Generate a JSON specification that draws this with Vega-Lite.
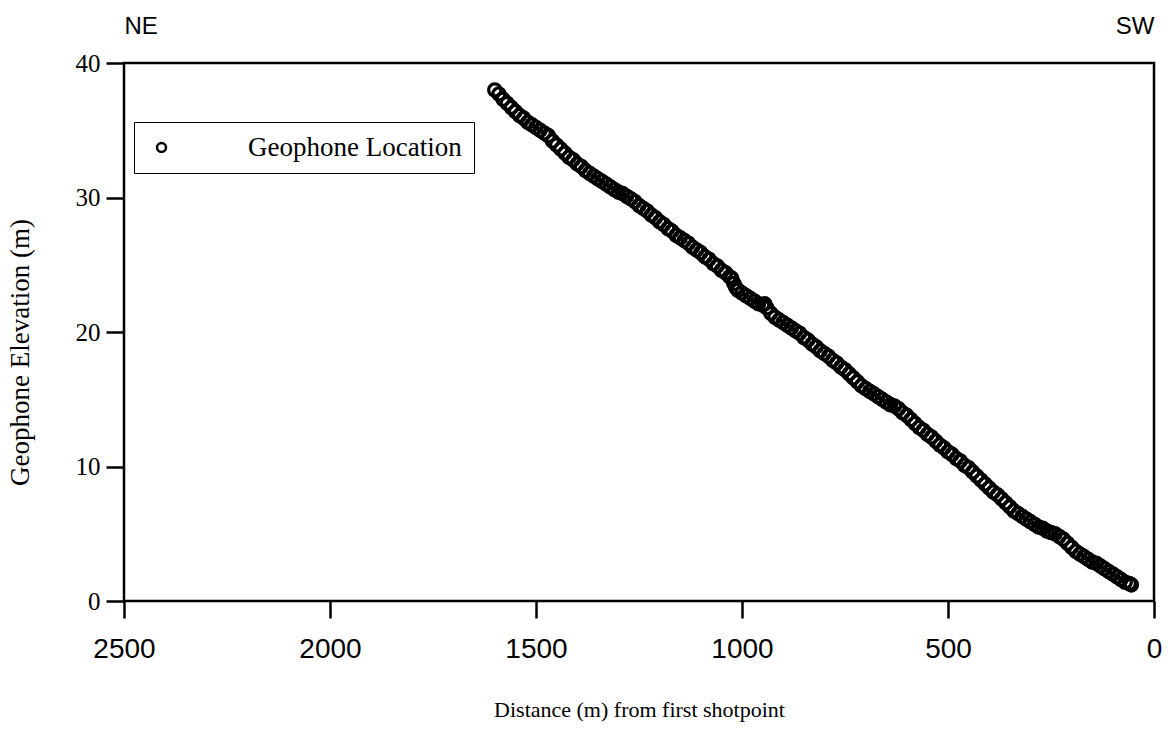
{
  "$schema": "https://vega.github.io/schema/vega-lite/v6.json",
  "width": 1030,
  "height": 538,
  "autosize": "none",
  "padding": {"left": 124, "top": 63, "right": 18, "bottom": 141},
  "background": "white",
  "config": {
    "view": {"stroke": "black", "strokeWidth": 2.5},
    "axis": {"grid": false, "domain": false, "tickColor": "black", "labelColor": "black", "titleColor": "black"}
  },
  "data": {
    "values": [
      {"distance": 1600, "elevation": 38.0}, {"distance": 1590, "elevation": 37.7}, {"distance": 1580, "elevation": 37.3},
      {"distance": 1570, "elevation": 37.0}, {"distance": 1560, "elevation": 36.7}, {"distance": 1550, "elevation": 36.4},
      {"distance": 1540, "elevation": 36.1}, {"distance": 1530, "elevation": 35.9}, {"distance": 1520, "elevation": 35.6},
      {"distance": 1510, "elevation": 35.4}, {"distance": 1500, "elevation": 35.2}, {"distance": 1490, "elevation": 35.0},
      {"distance": 1480, "elevation": 34.8}, {"distance": 1470, "elevation": 34.6}, {"distance": 1460, "elevation": 34.2},
      {"distance": 1450, "elevation": 33.9}, {"distance": 1440, "elevation": 33.6}, {"distance": 1430, "elevation": 33.3},
      {"distance": 1420, "elevation": 33.0}, {"distance": 1410, "elevation": 32.8}, {"distance": 1400, "elevation": 32.5},
      {"distance": 1390, "elevation": 32.3}, {"distance": 1380, "elevation": 32.0}, {"distance": 1370, "elevation": 31.8},
      {"distance": 1360, "elevation": 31.6}, {"distance": 1350, "elevation": 31.4}, {"distance": 1340, "elevation": 31.2},
      {"distance": 1330, "elevation": 31.0}, {"distance": 1320, "elevation": 30.8}, {"distance": 1310, "elevation": 30.6},
      {"distance": 1300, "elevation": 30.4}, {"distance": 1290, "elevation": 30.3}, {"distance": 1280, "elevation": 30.1},
      {"distance": 1270, "elevation": 29.9}, {"distance": 1260, "elevation": 29.7}, {"distance": 1250, "elevation": 29.4},
      {"distance": 1240, "elevation": 29.2}, {"distance": 1230, "elevation": 29.0}, {"distance": 1220, "elevation": 28.7},
      {"distance": 1210, "elevation": 28.5}, {"distance": 1200, "elevation": 28.2}, {"distance": 1190, "elevation": 28.0},
      {"distance": 1180, "elevation": 27.7}, {"distance": 1170, "elevation": 27.5}, {"distance": 1160, "elevation": 27.2},
      {"distance": 1150, "elevation": 27.0}, {"distance": 1140, "elevation": 26.8}, {"distance": 1130, "elevation": 26.6},
      {"distance": 1120, "elevation": 26.3}, {"distance": 1110, "elevation": 26.1}, {"distance": 1100, "elevation": 25.9},
      {"distance": 1090, "elevation": 25.6}, {"distance": 1080, "elevation": 25.4}, {"distance": 1070, "elevation": 25.1},
      {"distance": 1060, "elevation": 24.9}, {"distance": 1050, "elevation": 24.6}, {"distance": 1040, "elevation": 24.4},
      {"distance": 1030, "elevation": 24.1}, {"distance": 1025, "elevation": 24.0}, {"distance": 1020, "elevation": 23.6},
      {"distance": 1015, "elevation": 23.3}, {"distance": 1010, "elevation": 23.1}, {"distance": 1000, "elevation": 22.9},
      {"distance": 990, "elevation": 22.7}, {"distance": 980, "elevation": 22.5}, {"distance": 970, "elevation": 22.3},
      {"distance": 960, "elevation": 22.1}, {"distance": 950, "elevation": 22.0}, {"distance": 945, "elevation": 22.1},
      {"distance": 940, "elevation": 21.8}, {"distance": 930, "elevation": 21.4}, {"distance": 920, "elevation": 21.1},
      {"distance": 910, "elevation": 20.9}, {"distance": 900, "elevation": 20.7}, {"distance": 890, "elevation": 20.5},
      {"distance": 880, "elevation": 20.3}, {"distance": 870, "elevation": 20.1}, {"distance": 860, "elevation": 19.9},
      {"distance": 850, "elevation": 19.6}, {"distance": 840, "elevation": 19.4}, {"distance": 830, "elevation": 19.1},
      {"distance": 820, "elevation": 18.9}, {"distance": 810, "elevation": 18.6}, {"distance": 800, "elevation": 18.4},
      {"distance": 790, "elevation": 18.2}, {"distance": 780, "elevation": 17.9}, {"distance": 770, "elevation": 17.7},
      {"distance": 760, "elevation": 17.4}, {"distance": 750, "elevation": 17.2}, {"distance": 740, "elevation": 16.9},
      {"distance": 730, "elevation": 16.6}, {"distance": 720, "elevation": 16.3}, {"distance": 710, "elevation": 16.0},
      {"distance": 700, "elevation": 15.8}, {"distance": 690, "elevation": 15.6}, {"distance": 680, "elevation": 15.4},
      {"distance": 670, "elevation": 15.2}, {"distance": 660, "elevation": 15.0}, {"distance": 650, "elevation": 14.8},
      {"distance": 640, "elevation": 14.6}, {"distance": 630, "elevation": 14.5}, {"distance": 620, "elevation": 14.3},
      {"distance": 610, "elevation": 14.0}, {"distance": 600, "elevation": 13.8}, {"distance": 590, "elevation": 13.5},
      {"distance": 580, "elevation": 13.2}, {"distance": 570, "elevation": 12.9}, {"distance": 560, "elevation": 12.7},
      {"distance": 550, "elevation": 12.4}, {"distance": 540, "elevation": 12.2}, {"distance": 530, "elevation": 11.9},
      {"distance": 520, "elevation": 11.6}, {"distance": 510, "elevation": 11.4}, {"distance": 500, "elevation": 11.1},
      {"distance": 490, "elevation": 10.9}, {"distance": 480, "elevation": 10.6}, {"distance": 470, "elevation": 10.4},
      {"distance": 460, "elevation": 10.1}, {"distance": 450, "elevation": 9.9}, {"distance": 440, "elevation": 9.6},
      {"distance": 430, "elevation": 9.3}, {"distance": 420, "elevation": 9.0}, {"distance": 410, "elevation": 8.7},
      {"distance": 400, "elevation": 8.4}, {"distance": 390, "elevation": 8.1}, {"distance": 380, "elevation": 7.9},
      {"distance": 370, "elevation": 7.6}, {"distance": 360, "elevation": 7.3}, {"distance": 350, "elevation": 7.0},
      {"distance": 340, "elevation": 6.7}, {"distance": 330, "elevation": 6.5}, {"distance": 320, "elevation": 6.3},
      {"distance": 310, "elevation": 6.1}, {"distance": 300, "elevation": 5.9}, {"distance": 290, "elevation": 5.7},
      {"distance": 280, "elevation": 5.5}, {"distance": 270, "elevation": 5.4}, {"distance": 260, "elevation": 5.2},
      {"distance": 250, "elevation": 5.1}, {"distance": 240, "elevation": 5.0}, {"distance": 230, "elevation": 4.8},
      {"distance": 220, "elevation": 4.6}, {"distance": 210, "elevation": 4.3}, {"distance": 200, "elevation": 4.0},
      {"distance": 190, "elevation": 3.7}, {"distance": 180, "elevation": 3.5}, {"distance": 170, "elevation": 3.3},
      {"distance": 160, "elevation": 3.1}, {"distance": 150, "elevation": 2.9}, {"distance": 140, "elevation": 2.8},
      {"distance": 130, "elevation": 2.6}, {"distance": 120, "elevation": 2.4}, {"distance": 110, "elevation": 2.2},
      {"distance": 100, "elevation": 2.0}, {"distance": 90, "elevation": 1.8}, {"distance": 80, "elevation": 1.6},
      {"distance": 70, "elevation": 1.4}, {"distance": 60, "elevation": 1.3}, {"distance": 55, "elevation": 1.2}
    ]
  },
  "layer": [
    {
      "mark": {"type": "point", "filled": false, "size": 150, "strokeWidth": 3.3, "opacity": 1},
      "encoding": {
        "x": {
          "field": "distance",
          "type": "quantitative",
          "scale": {"domain": [2500, 0], "nice": false, "zero": false},
          "axis": {
            "orient": "bottom",
            "values": [0, 500, 1000, 1500, 2000, 2500],
            "format": "d",
            "tickSize": 17,
            "tickWidth": 2.5,
            "labelFlush": false,
            "labelFont": "Liberation Sans",
            "labelFontSize": 28,
            "labelPadding": 17,
            "title": "Distance (m) from first shotpoint",
            "titleFont": "Liberation Serif",
            "titleFontSize": 22,
            "titleFontWeight": "normal",
            "titlePadding": 36
          }
        },
        "y": {
          "field": "elevation",
          "type": "quantitative",
          "scale": {"domain": [0, 40], "nice": false, "zero": false},
          "axis": {
            "values": [0, 10, 20, 30, 40],
            "tickSize": 18,
            "tickWidth": 2.5,
            "labelFont": "Liberation Serif",
            "labelFontSize": 25,
            "labelPadding": 6,
            "title": "Geophone Elevation (m)",
            "titleFont": "Liberation Serif",
            "titleFontSize": 27,
            "titleFontWeight": "normal",
            "titlePadding": 41,
            "titleY": 289
          }
        },
        "color": {
          "datum": "Geophone Location",
          "type": "nominal",
          "scale": {"range": ["black"]},
          "legend": {
            "orient": "none",
            "legendX": 10,
            "legendY": 59,
            "title": null,
            "strokeColor": "black",
            "fillColor": "white",
            "padding": 12,
            "symbolType": "circle",
            "symbolSize": 80,
            "symbolStrokeWidth": 2.5,
            "symbolStrokeColor": "black",
            "symbolFillColor": "white",
            "symbolOffset": 2,
            "labelOffset": 73,
            "labelFont": "Liberation Serif",
            "labelFontSize": 27,
            "labelColor": "black",
            "labelLimit": 400,
            "encode": {"legend": {"update": {"strokeWidth": {"value": 2}}}}
          }
        }
      }
    },
    {
      "mark": {"type": "point", "opacity": 0},
      "encoding": {
        "x": {
          "field": "distance",
          "type": "quantitative",
          "axis": {
            "orient": "top",
            "values": [2500, 0],
            "labelExpr": "datum.value == 2500 ? 'NE' : 'SW'",
            "ticks": false,
            "tickSize": 0,
            "labelFlush": true,
            "labelFont": "Liberation Sans",
            "labelFontSize": 24,
            "labelBaseline": "alphabetic",
            "labelPadding": 30,
            "title": null
          }
        },
        "y": {"field": "elevation", "type": "quantitative"}
      }
    }
  ],
  "resolve": {"axis": {"x": "independent"}}
}
